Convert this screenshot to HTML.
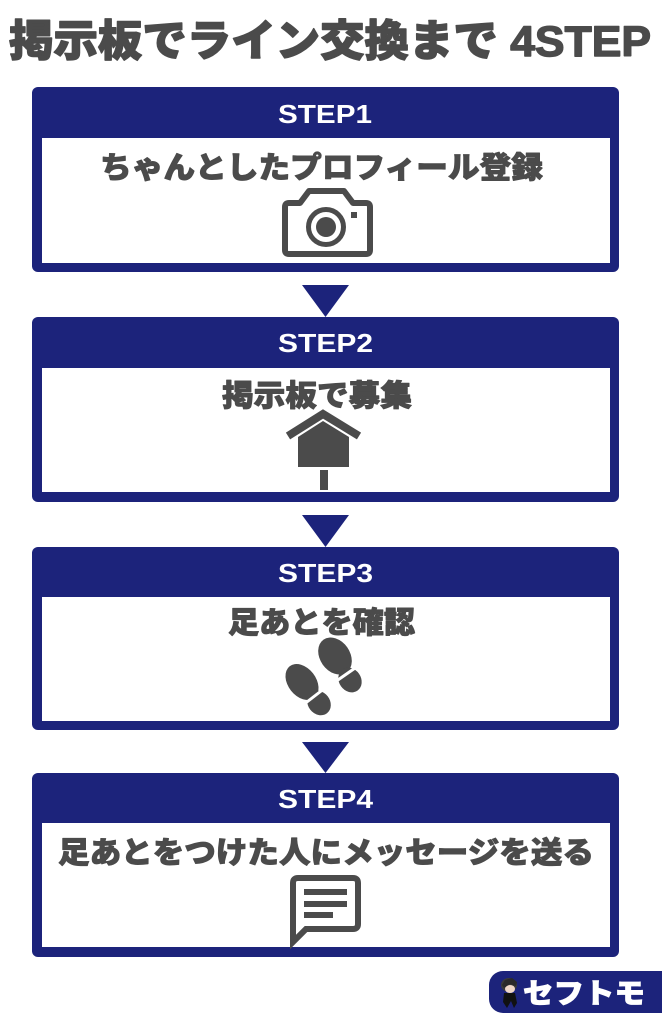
<!DOCTYPE html>
<html><head><meta charset="utf-8">
<style>
html,body{margin:0;padding:0;background:#fff;}
body{width:662px;height:1024px;overflow:hidden;}
svg{display:block;}
.jp{font-family:"Liberation Sans","Noto Sans CJK JP",sans-serif;font-weight:900;}
</style></head>
<body>
<svg width="662" height="1024" viewBox="0 0 662 1024" xmlns="http://www.w3.org/2000/svg">
<rect width="662" height="1024" fill="#fff"/>
<!-- Title -->
<text class="jp" x="9" y="56" font-size="43" fill="#4b4b4b" stroke="#4b4b4b" stroke-width="1.4" stroke-linejoin="round" textLength="642" lengthAdjust="spacingAndGlyphs">掲示板でライン交換まで 4STEP</text>

<!-- Boxes -->
<g fill="#1c237b">
  <rect x="32" y="87" width="587" height="185" rx="6"/>
  <rect x="32" y="317" width="587" height="185" rx="6"/>
  <rect x="32" y="547" width="587" height="183" rx="6"/>
  <rect x="32" y="773" width="587" height="184" rx="6"/>
  <!-- arrows -->
  <polygon points="302,285 349,285 325.5,317"/>
  <polygon points="302,515 349,515 325.5,547"/>
  <polygon points="302,742 349,742 325.5,773"/>
</g>
<g fill="#fff">
  <rect x="42" y="138" width="568" height="125"/>
  <rect x="42" y="368" width="568" height="124"/>
  <rect x="42" y="597" width="568" height="124"/>
  <rect x="42" y="823" width="568" height="124"/>
</g>

<!-- Headers -->
<g class="jp" fill="#fff" font-size="26" font-weight="bold">
  <text x="278" y="123" textLength="94" lengthAdjust="spacingAndGlyphs">STEP1</text>
  <text x="278" y="352" textLength="95" lengthAdjust="spacingAndGlyphs">STEP2</text>
  <text x="278" y="582" textLength="95" lengthAdjust="spacingAndGlyphs">STEP3</text>
  <text x="278" y="808" textLength="95" lengthAdjust="spacingAndGlyphs">STEP4</text>
</g>

<!-- Content text -->
<g class="jp" fill="#4b4b4b" stroke="#4b4b4b" stroke-width="0.9" stroke-linejoin="round" font-size="30">
  <text x="100" y="178" textLength="443" lengthAdjust="spacingAndGlyphs">ちゃんとしたプロフィール登録</text>
  <text x="222" y="406" textLength="190" lengthAdjust="spacingAndGlyphs">掲示板で募集</text>
  <text x="228" y="633" textLength="187" lengthAdjust="spacingAndGlyphs">足あとを確認</text>
  <text x="58" y="863" textLength="536" lengthAdjust="spacingAndGlyphs">足あとをつけた人にメッセージを送る</text>
</g>

<!-- Camera icon -->
<g stroke="#4b4b4b" fill="none" stroke-width="6" stroke-linejoin="round">
  <path d="M289,203 H300 L309,191 H344 L353,203 H366 Q370,203 370,207 V250 Q370,254 366,254 H289 Q285,254 285,250 V207 Q285,203 289,203 Z"/>
  <circle cx="326" cy="227" r="17.5" stroke-width="5"/>
</g>
<circle cx="326" cy="227" r="10" fill="#4b4b4b"/>
<rect x="351" y="212" width="6" height="6" fill="#4b4b4b"/>

<!-- Signboard icon -->
<polyline points="288,436 323,414 359,436" fill="none" stroke="#4b4b4b" stroke-width="8"/>
<polygon points="323,421 349,437 349,467 298,467 298,437" fill="#4b4b4b"/>
<rect x="320" y="470" width="8" height="20" fill="#4b4b4b"/>

<!-- Footprints -->
<g fill="#4b4b4b">
  <ellipse cx="302" cy="682" rx="14" ry="20" transform="rotate(-38 302 682)"/>
  <ellipse cx="319" cy="703" rx="11" ry="13" transform="rotate(-38 319 703)"/>
  <ellipse cx="335" cy="656" rx="15" ry="20" transform="rotate(-35 335 656)"/>
  <ellipse cx="350" cy="680" rx="11" ry="13" transform="rotate(-35 350 680)"/>
</g>
<g stroke="#fff" stroke-width="3">
  <line x1="303" y1="705" x2="325" y2="688"/>
  <line x1="335" y1="682" x2="358" y2="666"/>
</g>

<!-- Message icon -->
<path d="M298,878 H353 Q358,878 358,883 V924 Q358,929 353,929 H306 L293,942 V883 Q293,878 298,878 Z" fill="none" stroke="#4b4b4b" stroke-width="6" stroke-linejoin="miter"/>
<g fill="#4b4b4b">
  <rect x="304" y="889" width="43" height="6"/>
  <rect x="304" y="901" width="43" height="6"/>
  <rect x="304" y="912" width="29" height="6"/>
</g>

<!-- Logo -->
<rect x="489" y="971" width="190" height="42" rx="14" fill="#1c237b"/>
<g>
  <ellipse cx="509" cy="985" rx="8" ry="7" fill="#3a3a3a"/>
  <ellipse cx="510" cy="989" rx="5" ry="4" fill="#f0d8c8"/>
  <path d="M504,993 L515,993 L517,1003 L514,1008 L511,1001 L507,1008 L503,1002 Z" fill="#111"/>
  <path d="M502,985 L505,980 L512,978 L517,982 L516,986 L510,984 L504,988 Z" fill="#2a2a2a"/>
</g>
<text class="jp" x="523" y="1003" font-size="28" fill="#fff" stroke="#fff" stroke-width="0.8" textLength="122" lengthAdjust="spacingAndGlyphs">セフトモ</text>
</svg>
</body></html>
